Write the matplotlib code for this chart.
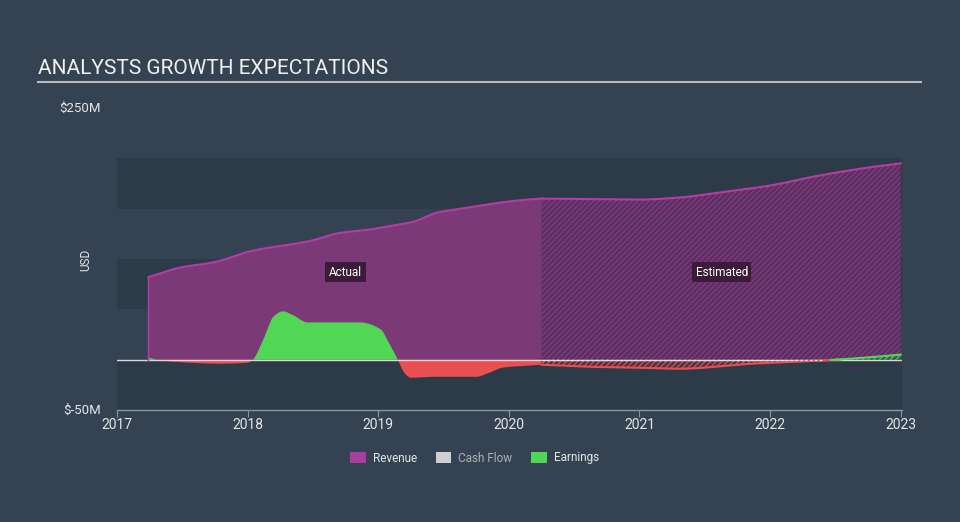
import matplotlib
matplotlib.use("Agg")
import matplotlib.pyplot as plt
import numpy as np
from matplotlib.patches import Patch

plt.rcParams['font.family'] = ['Roboto', 'DejaVu Sans']
plt.rcParams['hatch.linewidth'] = 0.8

# Revenue (USD millions)
rev_years_actual = [2017.24, 2017.50, 2017.71, 2017.81, 2018.00, 2018.15, 2018.31,
                    2018.48, 2018.71, 2018.92, 2019.10, 2019.27, 2019.45, 2019.58,
                    2019.73, 2019.93, 2020.14, 2020.25]
rev_actual = [82, 92, 96, 99, 107, 111, 114, 118, 126, 129, 133, 137, 146, 149,
              152, 156, 159, 160]
rev_years_est = [2020.25, 2020.60, 2021.00, 2021.30, 2021.61, 2022.00, 2022.38,
                 2022.76, 2023.00]
rev_est = [160, 159.5, 159, 161, 166, 173, 183, 191, 195]

# Earnings (USD millions)
earn_years_actual = [2017.24, 2017.35, 2017.56, 2017.77, 2018.00, 2018.04, 2018.12,
                     2018.20, 2018.27, 2018.35, 2018.46, 2018.60, 2018.86, 2019.02,
                     2019.08, 2019.15, 2019.20, 2019.25, 2019.42, 2019.75, 2019.85,
                     2019.95, 2020.14, 2020.25]
earn_actual = [2, -1, -3, -4, -3, 0, 20, 43, 48, 44, 37, 37, 37, 30, 17, 0, -13,
               -18, -17, -17, -13, -8, -6, -5]
earn_years_est = [2020.25, 2020.60, 2021.00, 2021.30, 2021.86, 2022.37, 2022.62,
                  2023.00]
earn_est = [-5, -7, -8, -9, -4, -1, 1, 5]

# Cash flow estimate (near zero)
cf_years_est = [2020.25, 2022.40]
cf_est = [0, 0]

x_ticks = [2017, 2018, 2019, 2020, 2021, 2022, 2023]
y_tick_labels = ["$250M", "$-50M"]
legend_labels = ["Revenue", "Cash Flow", "Earnings"]

BG = '#344251'
DARK = '#2d3b49'
REV_FILL = '#7b3a77'
REV_LINE = '#b23da4'
GREEN = '#52d656'
RED = '#ea4f50'


def pchip(x, y, n=800):
    x = np.asarray(x, float); y = np.asarray(y, float)
    h = np.diff(x); d = np.diff(y) / h
    m = np.zeros_like(y)
    for k in range(1, len(x) - 1):
        if d[k - 1] * d[k] > 0:
            w1 = 2 * h[k] + h[k - 1]; w2 = h[k] + 2 * h[k - 1]
            m[k] = (w1 + w2) / (w1 / d[k - 1] + w2 / d[k])
    m[0] = d[0]; m[-1] = d[-1]
    xs = np.linspace(x[0], x[-1], n)
    idx = np.clip(np.searchsorted(x, xs) - 1, 0, len(x) - 2)
    t = (xs - x[idx]) / h[idx]
    h00 = 2 * t**3 - 3 * t**2 + 1; h10 = t**3 - 2 * t**2 + t
    h01 = -2 * t**3 + 3 * t**2; h11 = t**3 - t**2
    ys = h00 * y[idx] + h10 * h[idx] * m[idx] + h01 * y[idx + 1] + h11 * h[idx] * m[idx + 1]
    return xs, ys


fig = plt.figure(figsize=(9.6, 5.22), dpi=100, facecolor=BG)
ax = fig.add_axes([117/960, 1 - 410/522, (902-117)/960, (410-108)/522])
ax.set_facecolor(BG)
ax.set_xlim(2017, 2023.01)
ax.set_ylim(-50, 250)

for lo, hi in [(150, 200), (50, 100), (-50, 0)]:
    ax.axhspan(lo, hi, color=DARK, zorder=0, lw=0)

# Revenue
xa, ya = pchip(rev_years_actual, rev_actual)
ax.fill_between(xa, 0, ya, color=REV_FILL, lw=0, zorder=1)
ax.plot(xa, ya, color=REV_LINE, lw=1.5, zorder=3)
ax.plot([xa[0], xa[0]], [0, ya[0]], color=REV_LINE, lw=1.0, zorder=3)
xe, ye = pchip(rev_years_est, rev_est)
ax.fill_between(xe, 0, ye, facecolor='#5a3060', edgecolor='#8a3a86', hatch='//////',
                lw=0, zorder=1)
ax.plot(xe, ye, color=REV_LINE, lw=1.5, zorder=3)

# Earnings actual
fx, fy = pchip(earn_years_actual, earn_actual)
ax.fill_between(fx, 0, fy, where=fy >= 0, color=GREEN, lw=0, zorder=2, interpolate=True)
ax.fill_between(fx, 0, fy, where=fy <= 0, color=RED, lw=0, zorder=2, interpolate=True)

# Earnings estimated
fx2, fy2 = pchip(earn_years_est, earn_est)
ax.fill_between(fx2, 0, fy2, where=fy2 <= 0, facecolor='#4a3548', edgecolor=RED,
                hatch='//////', lw=0, zorder=2, interpolate=True)
ax.fill_between(fx2, 0, fy2, where=fy2 >= 0, facecolor='#3a5a48', edgecolor=GREEN,
                hatch='//////', lw=0, zorder=2, interpolate=True)
neg = np.where(fy2 <= 0.3, fy2, np.nan)
pos = np.where(fy2 >= -0.3, fy2, np.nan)
ax.plot(fx2, neg, color=RED, lw=1.5, zorder=3)
ax.plot(fx2, pos, color=GREEN, lw=1.5, zorder=3)

# Cash flow estimate
ax.plot(cf_years_est, cf_est, color='#e0e0e0', lw=1.0, ls=(0, (2, 1.5)), zorder=4)

# zero line
ax.axhline(0, color='#d8d8d8', lw=1.0, zorder=2.5)

# Actual / Estimated labels
bbox = dict(boxstyle='square,pad=0.3', fc='#3b1b37', ec='none')
ax.text(2018.75, 87, 'Actual', color='white', fontsize=8.5, ha='center', va='center',
        bbox=bbox, zorder=6)
ax.text(2021.63, 87, 'Estimated', color='white', fontsize=8.5, ha='center', va='center',
        bbox=bbox, zorder=6)

# axes styling
for s in ['top', 'right', 'left']:
    ax.spines[s].set_visible(False)
ax.spines['bottom'].set_color('#8a96a2')
ax.spines['bottom'].set_linewidth(1.0)
ax.set_xticks(x_ticks)
ax.set_xticklabels([str(t) for t in x_ticks])
ax.tick_params(axis='x', colors='#8a96a2', labelcolor='#e6e6e6', labelsize=10,
               length=5, pad=1)
ax.set_yticks([])

fig.text(101/960, 1 - 108/522, y_tick_labels[0], color='#e6e6e6', fontsize=9.5,
         ha='right', va='center')
fig.text(101/960, 1 - 410/522, y_tick_labels[1], color='#e6e6e6', fontsize=9.5,
         ha='right', va='center')
fig.text(86/960, 1 - 260/522, 'USD', color='#e6e6e6', fontsize=8.5, rotation=90,
         ha='center', va='center')

# title
fig.text(38/960, 1 - 69/522, 'ANALYSTS GROWTH EXPECTATIONS', color='#f0f0f0',
         fontsize=15, ha='left', va='center')
fig.add_artist(plt.Line2D([38/960, 921/960], [1 - 81.5/522, 1 - 81.5/522],
                          color='#b8bcc2', lw=1.5))

# legend
handles = [Patch(facecolor='#a83d9f', edgecolor='none'),
           Patch(facecolor='#cfcfcf', edgecolor='none'),
           Patch(facecolor=GREEN, edgecolor='none')]
leg = fig.legend(handles, legend_labels, loc='center', bbox_to_anchor=(0.4945, 1 - 458/522),
                 ncol=3, frameon=False, fontsize=8.5, handlelength=1.3, handleheight=1.0,
                 columnspacing=1.6, handletextpad=0.6)
for t, c in zip(leg.get_texts(), ['#e6e6e6', '#b0b0b0', '#e6e6e6']):
    t.set_color(c)

fig.savefig('out.png', dpi=100, facecolor=BG)
